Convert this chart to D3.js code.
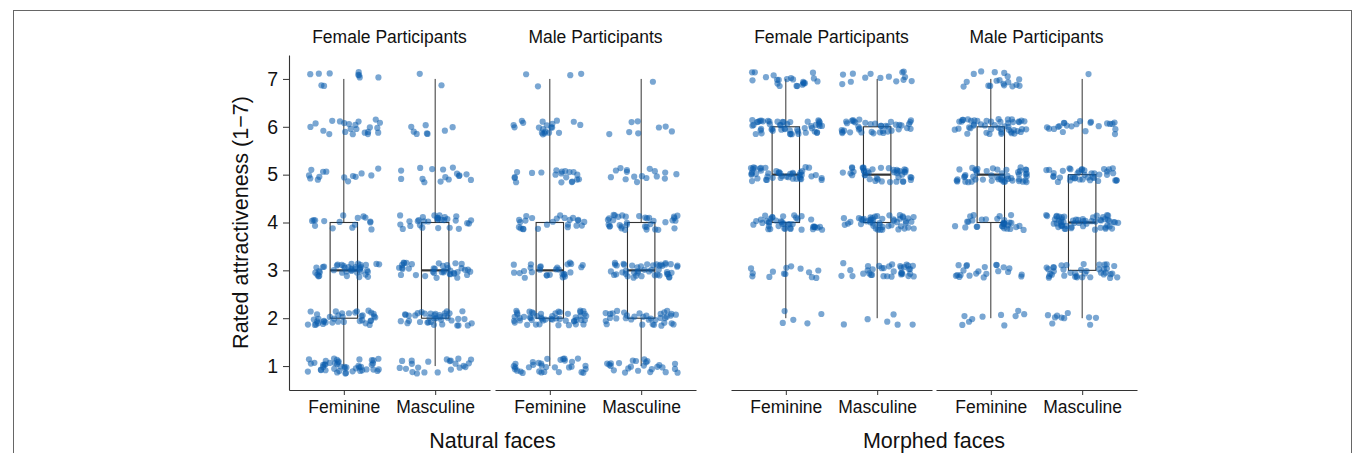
<!DOCTYPE html>
<html>
<head>
<meta charset="utf-8">
<script src="https://cdn.jsdelivr.net/npm/d3@7"></script>
<style>
  body { margin: 0; background: #fff; }
  svg text { font-family: "Liberation Sans", Arial, Helvetica, sans-serif; fill: #111; }
</style>
</head>
<body>
<div id="chart"></div>
<script>
// Rating levels and categories
const ratings = [1, 2, 3, 4, 5, 6, 7];
const faceTypes = ["Natural faces", "Morphed faces"];
const participants = ["Female Participants", "Male Participants"];
const faceSex = ["Feminine", "Masculine"];

// Number of ratings at each level 1..7
const natFemaleFeminine = [45, 38, 40, 16, 14, 22, 10];
const natFemaleMasculine = [22, 38, 38, 30, 16, 8, 2];
const natMaleFeminine = [32, 50, 28, 24, 20, 20, 4];
const natMaleMasculine = [25, 35, 45, 35, 16, 8, 1];
const morFemaleFeminine = [0, 5, 14, 42, 45, 50, 22];
const morFemaleMasculine = [0, 6, 35, 48, 42, 40, 14];
const morMaleFeminine = [0, 10, 22, 30, 50, 48, 18];
const morMaleMasculine = [0, 10, 38, 55, 40, 22, 1];

const counts = {
  "Natural faces": {
    "Female Participants": {Feminine: natFemaleFeminine, Masculine: natFemaleMasculine},
    "Male Participants": {Feminine: natMaleFeminine, Masculine: natMaleMasculine}
  },
  "Morphed faces": {
    "Female Participants": {Feminine: morFemaleFeminine, Masculine: morFemaleMasculine},
    "Male Participants": {Feminine: morMaleFeminine, Masculine: morMaleMasculine}
  }
};

const W = 1356, H = 453;
const svg = d3.select("#chart").append("svg")
  .attr("width", W).attr("height", H);

// figure frame
svg.append("rect")
  .attr("x", 13.5).attr("y", 10.5)
  .attr("width", 1338).attr("height", 520)
  .attr("fill", "none").attr("stroke", "#666").attr("stroke-width", 1);

const y = d3.scaleLinear().domain([0.5, 7.5]).range([390, 55]);

// panel left edges, per face type then participant group
const panelX = {
  "Natural faces": [289, 495],
  "Morphed faces": [731, 936]
};
const panelW = 201;

const pointColor = "#0b5cad";
const lineColor = "#333";

// y axis (only for natural faces)
const yAxis = svg.append("g")
  .attr("transform", `translate(${panelX["Natural faces"][0]},0)`)
  .call(d3.axisLeft(y).tickValues(ratings).tickFormat(d3.format("d"))
    .tickSize(6).tickSizeOuter(0).tickPadding(5));
yAxis.select(".domain").attr("stroke", lineColor).attr("stroke-width", 1.1);
yAxis.selectAll(".tick line").attr("stroke", lineColor);
yAxis.selectAll(".tick text").style("font-size", "19.5px").attr("fill", "#111");

svg.append("text")
  .attr("transform", "rotate(-90)")
  .attr("x", -(55 + 390) / 2)
  .attr("y", 248)
  .attr("text-anchor", "middle")
  .style("font-size", "21.5px")
  .text("Rated attractiveness (1\u22127)");

// jitter is only a drawing offset (like geom_jitter); seeded so the picture is stable
const rand = d3.randomLcg(0.4217);
function jitter() {
  return [rand() * 2 - 1, rand() * 2 - 1];
}

function boxStats(values) {
  const s = values.slice().sort(d3.ascending);
  const q1 = d3.quantile(s, 0.25), med = d3.quantile(s, 0.5), q3 = d3.quantile(s, 0.75);
  const iqr = q3 - q1;
  const lo = d3.min(s.filter(v => v >= q1 - 1.5 * iqr));
  const hi = d3.max(s.filter(v => v <= q3 + 1.5 * iqr));
  return {q1, med, q3, lo, hi};
}

faceTypes.forEach(ft => {
  participants.forEach((pt, pi) => {
    const x0 = panelX[ft][pi];
    const x = d3.scalePoint().domain(faceSex).range([x0, x0 + panelW]).padding(0.6);
    const step = x.step();
    const g = svg.append("g");

    // x axis
    const xAxis = g.append("g")
      .attr("transform", "translate(0,390)")
      .call(d3.axisBottom(x).tickSize(5).tickSizeOuter(0).tickPadding(6));
    xAxis.select(".domain").attr("stroke", lineColor).attr("stroke-width", 1.1);
    xAxis.selectAll(".tick line").attr("stroke", lineColor);
    xAxis.selectAll(".tick text").style("font-size", "17.5px").attr("fill", "#111");

    // panel title
    g.append("text")
      .attr("x", x0 + panelW / 2)
      .attr("y", 43)
      .attr("text-anchor", "middle")
      .style("font-size", "17.5px")
      .text(pt);

    faceSex.forEach(fs => {
      const cnt = counts[ft][pt][fs];
      const values = [];
      ratings.forEach((r, k) => { for (let n = 0; n < cnt[k]; n++) values.push(r); });
      const st = boxStats(values);
      const cx = x(fs);
      const bw = step * 0.3;

      // whiskers
      g.append("line").attr("x1", cx).attr("x2", cx)
        .attr("y1", y(st.q3)).attr("y2", y(st.hi))
        .attr("stroke", lineColor).attr("stroke-width", 1);
      g.append("line").attr("x1", cx).attr("x2", cx)
        .attr("y1", y(st.q1)).attr("y2", y(st.lo))
        .attr("stroke", lineColor).attr("stroke-width", 1);
      // box
      g.append("rect")
        .attr("x", cx - bw / 2).attr("y", y(st.q3))
        .attr("width", bw).attr("height", y(st.q1) - y(st.q3))
        .attr("fill", "none").attr("stroke", lineColor).attr("stroke-width", 1.1);
      g.append("line")
        .attr("x1", cx - bw / 2).attr("x2", cx + bw / 2)
        .attr("y1", y(st.med)).attr("y2", y(st.med))
        .attr("stroke", lineColor).attr("stroke-width", 2.2);

      // jittered points
      const pts = values.map(v => ({v, j: jitter()}));
      g.append("g").selectAll("circle")
        .data(pts)
        .join("circle")
        .attr("cx", d => cx + d.j[0] * step * 0.4)
        .attr("cy", d => y(d.v + d.j[1] * 0.16))
        .attr("r", 3.1)
        .attr("fill", pointColor)
        .attr("fill-opacity", 0.55);
    });
  });

  // face type label
  svg.append("text")
    .attr("x", (panelX[ft][0] + panelX[ft][1] + panelW) / 2)
    .attr("y", 448)
    .attr("text-anchor", "middle")
    .style("font-size", "21.5px")
    .text(ft);
});
</script>
</body>
</html>
